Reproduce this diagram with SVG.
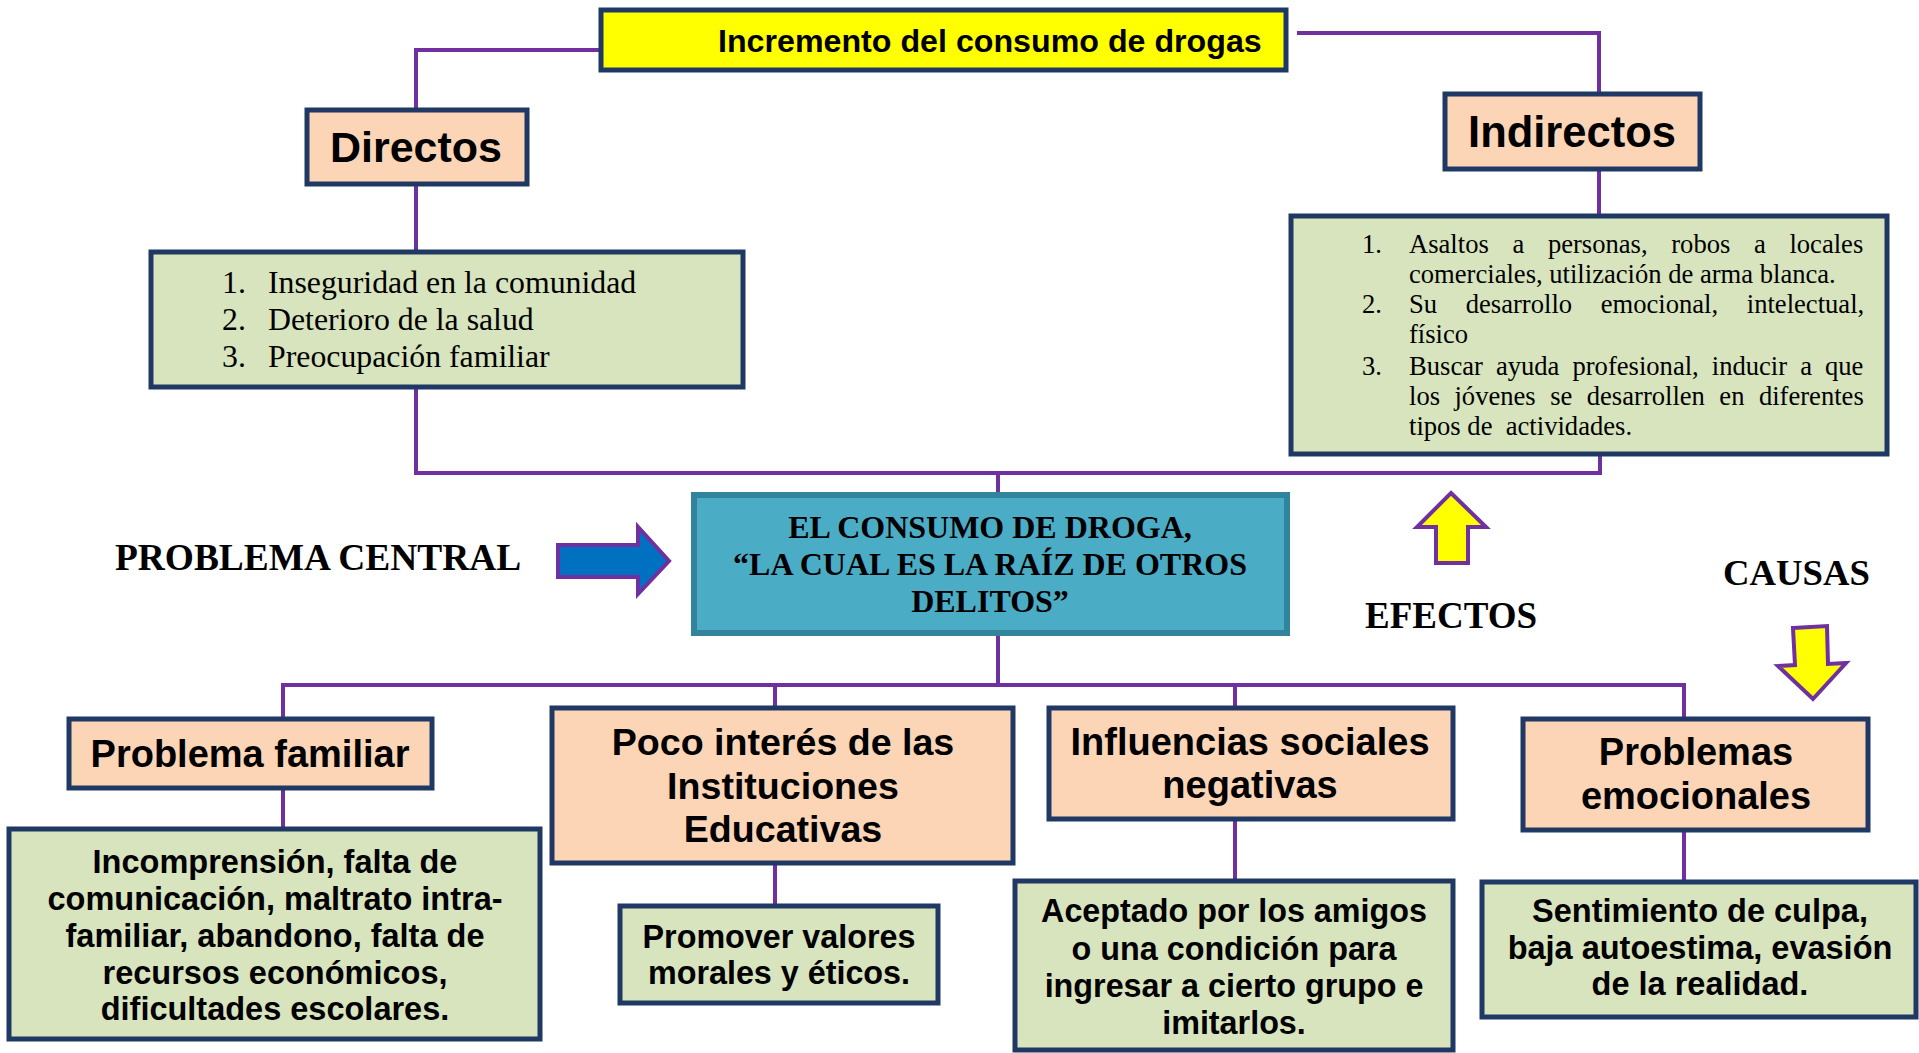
<svg xmlns="http://www.w3.org/2000/svg" width="1919" height="1053" viewBox="0 0 1919 1053">
<style>
.box{stroke:#1F3864;stroke-width:5}
.peach{fill:#FBD5B5}
.green{fill:#D7E4BD}
.lbl{font-family:"Liberation Sans",Arial,sans-serif;font-weight:bold;fill:#000}
.ser{font-family:"Liberation Serif","Times New Roman",serif;fill:#000}
.serb{font-family:"Liberation Serif","Times New Roman",serif;font-weight:bold;fill:#000}
.con{stroke:#7030A0;stroke-width:4;fill:none}
.arr{stroke:#7030A0;stroke-width:4;stroke-linejoin:miter}
</style>
<rect width="1919" height="1053" fill="#fff"/>
<g id="connectors">
<polyline class="con" points="601,50 416,50 416,110"/>
<polyline class="con" points="1297,33 1599,33 1599,94"/>
<line class="con" x1="416" y1="184" x2="416" y2="252"/>
<line class="con" x1="1599" y1="169" x2="1599" y2="216"/>
<polyline class="con" points="416,387 416,473 1600,473 1600,454"/>
<line class="con" x1="998" y1="473" x2="998" y2="495"/>
<line class="con" x1="998" y1="633" x2="998" y2="685"/>
<polyline class="con" points="283,719 283,685 1684,685 1684,719"/>
<line class="con" x1="775" y1="685" x2="775" y2="708"/>
<line class="con" x1="1235" y1="685" x2="1235" y2="708"/>
<line class="con" x1="283" y1="788" x2="283" y2="829"/>
<line class="con" x1="775" y1="863" x2="775" y2="906"/>
<line class="con" x1="1235" y1="819" x2="1235" y2="881"/>
<line class="con" x1="1684" y1="830" x2="1684" y2="882"/>
</g>
<g id="top">
<rect class="box" x="601" y="10" width="685" height="60" fill="#FFFF00"/>
<text class="lbl" x="718" y="52" font-size="32.2">Incremento del consumo de drogas</text>
</g>
<g id="directos">
<rect class="box peach" x="307" y="110" width="220" height="74"/>
<text class="lbl" x="416" y="162" font-size="43" text-anchor="middle">Directos</text>
</g>
<g id="indirectos">
<rect class="box peach" x="1445" y="94" width="255" height="75"/>
<text class="lbl" x="1572" y="147" font-size="43.5" text-anchor="middle">Indirectos</text>
</g>
<g id="directos-list">
<rect class="box green" x="151" y="252" width="592" height="135"/>
<g class="ser" font-size="31.8">
<text x="222" y="293">1.</text><text x="268" y="293">Inseguridad en la comunidad</text>
<text x="222" y="330">2.</text><text x="268" y="330">Deterioro de la salud</text>
<text x="222" y="367">3.</text><text x="268" y="367">Preocupación familiar</text>
</g>
</g>
<g id="indirectos-list">
<rect class="box green" x="1291" y="216" width="596" height="238"/>
<g class="ser" font-size="26.6">
<text x="1362" y="253">1.</text><text x="1409" y="253" word-spacing="17">Asaltos a personas, robos a locales</text>
<text x="1409" y="283">comerciales, utilización de arma blanca.</text>
<text x="1362" y="313">2.</text><text x="1409" y="313" word-spacing="22">Su desarrollo emocional, intelectual,</text>
<text x="1409" y="343">físico</text>
<text x="1362" y="375">3.</text><text x="1409" y="375" word-spacing="6.4">Buscar ayuda profesional, inducir a que</text>
<text x="1409" y="405" word-spacing="7.8">los jóvenes se desarrollen en diferentes</text>
<text x="1409" y="435" style="white-space:pre">tipos de  actividades.</text>
</g>
</g>
<g id="central">
<rect x="694" y="495" width="593" height="138" fill="#4BACC6" stroke="#31849B" stroke-width="6"/>
<g class="serb" font-size="32" text-anchor="middle">
<text x="990" y="538">EL CONSUMO DE DROGA,</text>
<text x="990" y="575">“LA CUAL ES LA RAÍZ DE OTROS</text>
<text x="990" y="612">DELITOS”</text>
</g>
</g>
<g id="problema-central">
<text class="serb" x="115" y="570" font-size="37.4">PROBLEMA CENTRAL</text>
<polygon class="arr" fill="#0070C0" points="558,545 638,545 638,527 669,561 638,594 638,577 558,577"/>
</g>
<g id="efectos">
<polygon class="arr" fill="#FFFF00" points="1451,493 1486,527 1468,527 1468,563 1436,563 1436,527 1417,527"/>
<text class="serb" x="1365" y="628" font-size="37">EFECTOS</text>
</g>
<g id="causas">
<text class="serb" x="1723" y="585" font-size="36.7">CAUSAS</text>
<polygon class="arr" fill="#FFFF00" points="1793,628 1827,626 1828,664 1846,663 1813,699 1778,666 1795,665"/>
</g>
<g id="problema-familiar">
<rect class="box peach" x="69" y="719" width="363" height="69"/>
<text class="lbl" x="250" y="767" font-size="38" text-anchor="middle">Problema familiar</text>
</g>
<g id="familiar-detalle">
<rect class="box green" x="9" y="829" width="531" height="210"/>
<g class="lbl" font-size="32.5" text-anchor="middle">
<text x="275" y="873">Incomprensión, falta de</text>
<text x="275" y="910">comunicación, maltrato intra-</text>
<text x="275" y="947">familiar, abandono, falta de</text>
<text x="275" y="984">recursos económicos,</text>
<text x="275" y="1020">dificultades escolares.</text>
</g>
</g>
<g id="poco-interes">
<rect class="box peach" x="552" y="708" width="461" height="155"/>
<g class="lbl" font-size="37.6" text-anchor="middle">
<text x="783" y="755">Poco interés de las</text>
<text x="783" y="799">Instituciones</text>
<text x="783" y="842">Educativas</text>
</g>
</g>
<g id="promover">
<rect class="box green" x="620" y="906" width="318" height="97"/>
<g class="lbl" font-size="32.3" text-anchor="middle">
<text x="779" y="948">Promover valores</text>
<text x="779" y="984">morales y éticos.</text>
</g>
</g>
<g id="influencias">
<rect class="box peach" x="1049" y="708" width="404" height="111"/>
<g class="lbl" font-size="38" text-anchor="middle">
<text x="1250" y="755">Influencias sociales</text>
<text x="1250" y="798">negativas</text>
</g>
</g>
<g id="aceptado">
<rect class="box green" x="1015" y="881" width="438" height="169"/>
<g class="lbl" font-size="32.3" text-anchor="middle">
<text x="1234" y="922">Aceptado por los amigos</text>
<text x="1234" y="960">o una condición para</text>
<text x="1234" y="997">ingresar a cierto grupo e</text>
<text x="1234" y="1034">imitarlos.</text>
</g>
</g>
<g id="problemas-emocionales">
<rect class="box peach" x="1523" y="719" width="345" height="111"/>
<g class="lbl" font-size="38" text-anchor="middle">
<text x="1696" y="765">Problemas</text>
<text x="1696" y="809">emocionales</text>
</g>
</g>
<g id="sentimiento">
<rect class="box green" x="1482" y="882" width="434" height="135"/>
<g class="lbl" font-size="32.5" text-anchor="middle">
<text x="1700" y="922">Sentimiento de culpa,</text>
<text x="1700" y="959">baja autoestima, evasión</text>
<text x="1700" y="995">de la realidad.</text>
</g>
</g>
</svg>
